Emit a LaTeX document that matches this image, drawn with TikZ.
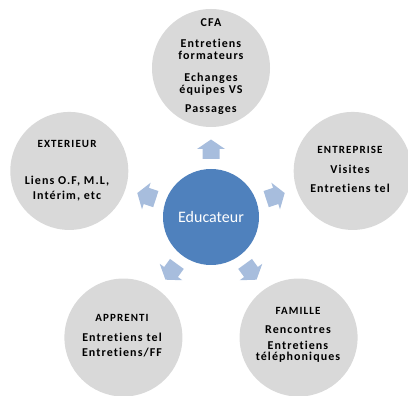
\documentclass[tikz,border=0pt]{standalone}
\usepackage{fontspec}
\setmainfont{Carlito}
\newfontfamily\bodyfont{Carlito}[LetterSpace=9, Ligatures=NoCommon]
\newfontfamily\titlefont{Carlito}[LetterSpace=10, Ligatures=NoCommon]
\definecolor{outerfill}{HTML}{D9D9D9}
\definecolor{centerfill}{HTML}{4F81BD}
\definecolor{arrowfill}{HTML}{A7BDDD}
\tikzset{
  outer/.style={circle, fill=outerfill, minimum size=118pt, inner sep=0pt},
  hub/.style={circle, fill=centerfill, minimum size=96pt, inner sep=0pt, text=white,
    font=\fontsize{16}{19}\selectfont},
  bodyline/.style={anchor=base, inner sep=0pt,
    font=\bodyfont\bfseries\fontsize{12}{12}\selectfont},
  titleline/.style={anchor=base, inner sep=0pt,
    font=\titlefont\bfseries\fontsize{11}{12}\selectfont},
  blockarrow/.style={fill=arrowfill}
}
\begin{document}
\begin{tikzpicture}[x=1pt,y=1pt]
\useasboundingbox (0,0) rectangle (408,396);
\node[hub] (edu) at (211,179) {Educateur};
\node[outer] (cfa) at ([shift={(90:149pt)}]edu.center) {};
\node[outer] (ent) at ([shift={(18:149pt)}]edu.center) {};
\node[outer] (ext) at ([shift={(162:149pt)}]edu.center) {};
\node[outer] (app) at ([shift={(234:149pt)}]edu.center) {};
\node[outer] (fam) at ([shift={(306:149pt)}]edu.center) {};
% CFA
\node[titleline, font=\titlefont\bfseries\fontsize{12}{12}\selectfont] (cfa0) at (211,369) {CFA};
\node[bodyline] (cfa1) at (211,348) {Entretiens};
\node[bodyline] (cfa2) at (211,336) {formateurs};
\node[bodyline] (cfa3) at (211,314) {Echanges};
\node[bodyline] (cfa4) at (211,302) {équipes VS};
\node[bodyline] (cfa5) at (211,283) {Passages};
% ENTREPRISE
\node[titleline] (ent0) at (350,242) {ENTREPRISE};
\node[bodyline] (ent1) at (350,222) {Visites};
\node[bodyline] (ent2) at (350,203) {Entretiens tel};
% EXTERIEUR
\node[titleline] (ext0) at (67,248) {EXTERIEUR};
\node[bodyline] (ext1) at (67,211) {Liens O.F,  M.L,};
\node[bodyline] (ext2) at (67,196) {Intérim, etc};
% APPRENTI
\node[titleline] (app0) at (122,74) {APPRENTI};
\node[bodyline] (app1) at (122,54) {Entretiens tel};
\node[bodyline] (app2) at (122,39) {Entretiens/FF};
% FAMILLE
\node[titleline] (fam0) at (298,81) {FAMILLE};
\node[bodyline] (fam1) at (298,62) {Rencontres};
\node[bodyline] (fam2) at (298,46) {Entretiens};
\node[bodyline] (fam3) at (298,35) {téléphoniques};
% block arrows
\foreach \a in {90,18,162,234,306}
  \fill[blockarrow, shift={(edu.center)}, rotate=\a]
    (58,-8.5) -- (68,-8.5) -- (68,-14) -- (77.5,0) -- (68,14) -- (68,8.5) -- (58,8.5) -- cycle;
\end{tikzpicture}
\end{document}
